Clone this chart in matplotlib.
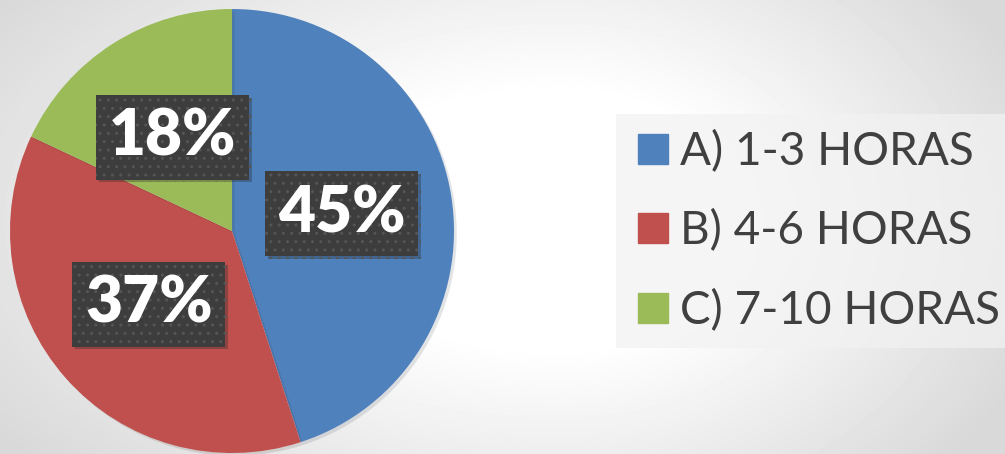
import numpy as np
import matplotlib
matplotlib.use("Agg")
import matplotlib.pyplot as plt
import matplotlib.patheffects as pe
from matplotlib.lines import Line2D

# data
categories = ["A) 1-3 HORAS", "B) 4-6 HORAS", "C) 7-10 HORAS"]
values = [45, 37, 18]
colors = ["#4f81bd", "#c0504d", "#9bbb59"]

W, H = 1005, 454
fig = plt.figure(figsize=(W / 100, H / 100), dpi=100)

# soft radial background
bg = fig.add_axes([0, 0, 1, 1])
yy, xx = np.mgrid[0:H, 0:W]
dx = xx - 560.0
sx = np.where(dx < 0, 600.0, 440.0)
r = np.sqrt((dx / sx) ** 2 + ((yy - 220.0) / 320.0) ** 2)
shade = 1 - 0.15 * np.clip((r - 0.4) / 0.75, 0, 1)
bg.imshow(shade, cmap="gray", vmin=0, vmax=1, aspect="auto", interpolation="bilinear")
bg.axis("off")

# pie
ax = fig.add_axes([10 / W, 1 / H, 444 / W, 444 / H])
wedges, texts, autotexts = ax.pie(
    values, colors=colors, startangle=90, counterclock=False,
    autopct="%1.0f%%", pctdistance=0.5,
    textprops=dict(color="white", fontsize=46, fontweight="heavy", family="Lato"),
    wedgeprops=dict(linewidth=0),
)
ax.set_xlim(-1, 1)
ax.set_ylim(-1, 1)
ax.set_aspect("equal")
for w in wedges:
    w.set_path_effects([pe.SimplePatchShadow(offset=(2, -2), alpha=0.12), pe.Normal()])
for t in autotexts:
    t.set_bbox(dict(boxstyle="square,pad=0.2", facecolor="#3d3d3d",
                    edgecolor="#555555", hatch="..", linewidth=0))
    t.get_bbox_patch().set_path_effects(
        [pe.SimplePatchShadow(offset=(2, -2), alpha=0.3, shadow_rgbFace="#222222"), pe.Normal()])

# legend
handles = [Line2D([], [], marker="s", linestyle="none", markersize=22,
                  markerfacecolor=c, markeredgecolor=c) for c in colors]
leg = fig.legend(handles, categories, loc="center left",
                 bbox_to_anchor=(616 / W, (H - 231) / H),
                 prop=dict(family="Lato", size=33), labelcolor="#404040",
                 frameon=True, fancybox=False, facecolor="#f2f2f2",
                 edgecolor="none", framealpha=0.7, labelspacing=0.8,
                 handletextpad=0.15, borderpad=0.35, handlelength=0.9,
                 borderaxespad=0)

fig.savefig("out.png", dpi=100)
